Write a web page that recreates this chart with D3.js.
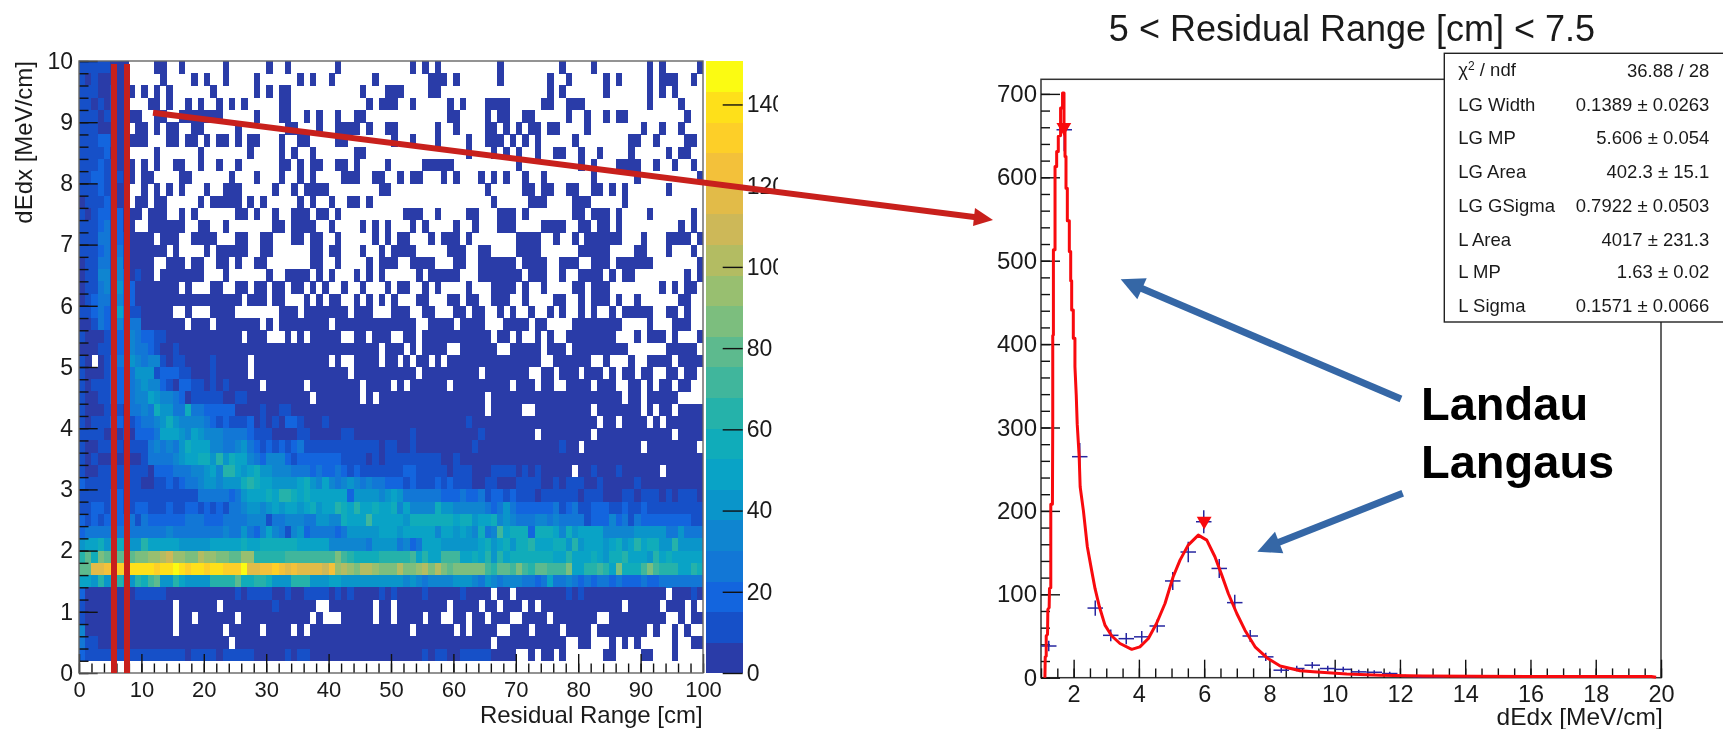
<!DOCTYPE html>
<html><head><meta charset="utf-8">
<script src="https://cdnjs.cloudflare.com/ajax/libs/d3/7.8.5/d3.min.js"></script>
<style>
html,body{margin:0;padding:0;background:#fff;overflow:hidden}
svg{display:block;filter:blur(0.35px)}
text{font-family:"Liberation Sans",Arial,sans-serif;fill:#1a1a1a}
</style></head><body>
<svg id="c" width="1723" height="729"></svg>
<script>
// ---------- 2D histogram: dE/dx vs residual range (100 x 50 bins) ----------
const levelChars = "0123456789abcdefghij";
const bandColours = ["#2a3ca8","#1650c8","#1365de","#1277d6","#0f85d0","#0a95ca","#09a3c6","#10acba","#25b2aa","#40b69c",
                     "#5dba8e","#7cbe7e","#98bf70","#b3bc62","#cdb858","#e2bb48","#f3c13a","#fdcf28","#fee01a","#fbfb12"];
const rangeTicks = [0,10,20,30,40,50,60,70,80,90,100];
const dedxTicks = [0,1,2,3,4,5,6,7,8,9,10];
const barTicks = [0,20,40,60,80,100,120,140];

// rows 0-21 (dE/dx 10 → 5.6): first ten columns as levels ('.' = see sparseRows)
const leftBins = ["11111000..","10100000..","11100100..","11010100..","11101100..","11100000..","11122100..","11112000..",
 "11121100..","11221110..","11121100..","01112100..","10122120..","11123120..","11133121..","11123131..","01133141..",
 "0114414201","0113415220","0123314220","1123216311","0013214233"];
// columns holding a few counts in rows 0-21
const sparseRows = [
"12 13 16 23 30 33 41 53 55 57 67 77 82 91 93 99",
"13 18 20 23 28 35 37 40 47 56-58 60 67 75 78 84 86 91 93-95 98",
"8 10 12 14 21 28 30 32 33 45 49-51 56 57 75 77 84 91 93 95",
"11 12 14 17 19 22 24 26 32 33 46 48-50 53 59 61 65-68 74 75 78-80 91 96",
"8 9 12 13 16-22 28 32 33 36 38 41 44 45 59 60 65 67 68 71 72 78 81 84 86 87 97",
"9 10 12 14 15 18 19 25 33 34 38 41-44 46 49 50 57 60 65 66 68 70 72 73 75 76 81 90 93 96",
"8-10 14 15 17 18 20 22 23 25 27 28 32 35 36 41 42 50 53 57 62 65-67 69 71 73 79 88 89 92 97 98",
"12 19 27 32 34 37 44 45 62 66 68 70 73 76 77 80 83 88 94 96 97",
"8 10 12 15 16 19 22 25 32 33 35 37 38 41 42 44 49 55-59 70 80 82 86-89 92 95 98",
"8 10 11 16 17 24 28 32 35 37 42-44 47 48 51 53 54 58 60 64 66 68 71 74 82 89 99",
"10 12 14 16 20 23-25 31 34 36-39 48 49 65 71 72 74 75 78 79 82 83 85 87 94",
"9 10 12 13 19 21-25 27 29 35 37 40 43 44 46 66 72-74 79-81 87",
"8 9 11-13 16 18 25 26 28 31 34-36 38 39 41 52-54 57 62 63 67-69 71 79 80 82-84 86 91 98",
"8 11-16 19 20 23 31 32 34-37 40 45 47 49 53 55 60 63 67-69 74-77 80 81 83 84 86 96 98",
"8-11 13-15 18-21 25 26 29 30 34 35 37 38 41 47 49 51 52 56 58-60 62 70-73 76 79 81-86 90 94-97 99",
"8-13 15 20 22-26 29 30 37 38 40 41 45 48 50-53 59-61 64 65 70-73 80-84 89 90 94 98",
"8-11 14-16 18 19 22 23 25 28 29 37 38 41 46 48-50 53-56 60 61 64-69 71-74 77-79 82-84 86-91 99",
"8-11 13-19 23 30 33-36 38 40 44 46 48 54 56-60 64-70 72-74 77 80-83 85 87 88 97 99",
"8-15 17 21 22 25 26 28 29 31 32 34 35 37 39 42 45 49 51 52 55 57 62 66-69 71 74 79 80 82-84 93 95 97 98",
"8-25 27-29 31 32 36 38 40 41 44 46 48 50 54 55 59 60 62 63 66-68 71 76 77 80 82-84 86 89 96 97",
"8-14 17 21-24 32-34 36-42 44-46 50-52 55 56 60 61 63 64 67 69 72 75 77 80 82 85 87-91 94 95 97",
"8-16 18-20 22-28 30 32-39 41-53 56-59 61-64 68-71 73 74 79-86 91 95-97"];

// rows 22-48 (dE/dx 5.6 → 0.2): level of each bin, read in groups of ten; missing tail = level 0
const heatRows = [
"1000112243 2211000000",
"0001112243 3210010000",
"1000123354 3441011000 0100000000",
"1000122235 5512221100 0100000000",
"1011122234 5442102211 0101000000",
"1001122234 4654432011 1110011000",
"1000111033 4375533733 2222200001 0011000000",
"1011122112 3345754444 3212111201 0102210001 0000000000 0000000000 0010000000",
"1111000102 2236665465 4443333211 1000011000 0011000000 0001000000 0000100000",
"1001111011 1343435766 6443345321 2121231111 1111111101 1001000000 0001000000 0000000100",
"1010000000 1333345667 7585766432 4442122222 2211110101 1111111100 1000000000",
"1001111111 1022233344 5648865675 5444333232 2321211111 1122111110 1110001111 0101000000 0010001000",
"2111111111 0011212334 5545557876 6555567546 4345434332 2212111212 1110011000 1111001011 1001000001",
"1111122111 1111111113 3333235666 7688767666 6662555545 6533333322 2322312212 1110111111 0111000110 1110101110",
"1122122112 2111211221 2121334554 5656656756 6876866766 7464444755 4444432353 2222223123 1122211211 2111111111",
"2121222231 3222222333 2223333444 1334443355 4476669666 6657777777 6775667454 3334434333 3122242313 2222222211",
"2333333333 3333433333 3334335324 6431452333 3235555566 6566666466 5654734967 7727776475 6666444445 5555335333",
"5667567655 8666665555 5666667667 7777766666 4444443555 5342366655 5555675675 7786667758 5666567568 6775585555",
"8a7baaaaab bccdeccbbd ccbbaacc88 8889999999 9b98777788 8889686699 9667685867 7777776686 6676577866 6586766666",
"aaffghhhii iihiijihii hiihhhjffg ghgfgffffe gcdcbddcbb bdbbcdbdba bbbbb98aa9 b98aa999b6 688986b777 9b98886687",
"6658568658 79a5586555 5888 8a7788 7555888555 6655555555 5545434444 5554354344 4332363343 2323323222 3223333333",
"2000000001 1111000000 0000010111 1001001111 0101000010 1000010000 0100000000 0000000010 1000000000 0000000010",
"1000000000 0000000000 0000000000 0100000000",
"1000000000",
"4000000000",
"3110000000",
"2111111111 1111111011 1101111100 0001011000 0000000000 0000010110 0111110000"];

// empty bins in rows 22-48
const emptyBins = [
"26 30-32 34 36 42 43 46 50 51 54 66 69 71 72 74 76 77 86-88 90 94 96-98",
"48 52 54 59 60 67 68 74 78 88-93 99",
"2 27 40 42 43 48 51 53 56 58 74 75 82 83 85-87 89 90 95",
"27 43 54 64 72 73 76 80 84 86 89 92 93 96 99",
"29 36 45 50 52 59 69 73 76 77 82 86 87 90 92 95 98 99",
"37 45 47 65 87 90 96-99",
"65 71 72 82 90 92 95",
"83 86 91 93",
"73 82 95",
"80 90 99",
"",
"79 93",
"","","","","","","","","",
"66 69 94",
"15 22 38 39 47 50 59 64 67 71 73 87 93 97 99",
"15 18 25 37 39-41 47 50 55 58 59 62 65 69 70 75 83 84 94 95 97",
"15 23 29 34 36 53 60 62 67 68 72 77 82 91 93 94 96 98 99",
"24 66 78 79 82-84 86 88 90-94 96 97",
"70 71 73 76 78-83 86-89 92-94 96-99"];

// ---------- 1D slice: 5 < residual range < 7.5 ----------
const sliceBinCount = 40;
const sliceCounts = [38,657,265,83.5,50.8,46.8,49,62,116,150.7,187,131,90,50,25,9,11,15,11,10,7,6.5,5,2,1,1,0,1,0,0,0,0,0,0,0,0,0,0,0,0];
const fitX = [1.12,1.13,1.16,1.16,1.2,1.21,1.25,1.26,1.30,1.30,1.35,1.36,1.36,1.38,1.38,1.43,1.43,1.48,1.48,1.53,1.53,1.60,1.60,1.66,1.66,1.705,1.705,1.736,1.736,1.766,1.766,1.807,1.807,1.868,1.868,1.91,1.91,1.94,1.94,1.99,1.99,2.04,2.04,2.08,2.11,2.17,2.2,2.30,2.42,2.55,2.655,2.79,2.96,3.17,3.42,3.78,4.03,4.29,4.54,4.80,5.05,5.26,5.51,5.82,6.08,6.33,6.54,6.74,7.0,7.25,7.56,7.92,8.33,8.94,9.35,10.37,11.39,12.7,16,19.7,19.85];
const fitY = [0,25,26,50,52,82,84,107,108,208,208,310,410,411,513,513,613,613,631,631,649,650,683,683,701,701,660,660,625,625,587,587,548,548,511,511,476,476,441,441,407,407,373,339,304,265,229,200,157,129,107,85,63,50,41,34,37,47,65,89,121,141,159,171,165,145,123,101,77,57,37,24,14,8.4,7,4.4,3,2,1.5,1.5,0.5];
const peakX = [1.7,6.0];
const peakY = [660,188];
const sliceXTicks = [2,4,6,8,10,12,14,16,18,20];
const sliceYTicks = [0,100,200,300,400,500,600,700];
const statNames = ["LG Width","LG MP","LG Area","LG GSigma","L Area","L MP","L Sigma"];
const statValues = ["0.1389 ± 0.0263","5.606 ± 0.054","402.3 ± 15.1","0.7922 ± 0.0503","4017 ± 231.3","1.63 ± 0.02","0.1571 ± 0.0066"];
const statBaselines = [111,144.3,178.3,211.7,245.7,278.3,311.7];

// ---------- layout ----------
const H = {l:79,r:703,t:61,b:673}, B = {l:706,r:742.7}, S = {l:1041,r:1661,t:79.3,b:677.7};
const svg = d3.select("#c");
const parseCols = s => s.trim()==="" ? [] : s.trim().split(/\s+/).flatMap(t=>{const p=t.split("-").map(Number);return p.length===1?[p[0]]:d3.range(p[0],p[1]+1);});

// build the bin grid (row 0 is top, row 49 is empty)
const grid = d3.range(50).map(()=>new Array(100).fill(null));
sparseRows.forEach((s,r)=>{parseCols(s).forEach(c=>grid[r][c]=0);
  [...leftBins[r]].forEach((ch,c)=>{if(ch!==".")grid[r][c]=levelChars.indexOf(ch);});});
heatRows.forEach((s,i)=>{const r=i+22,t=s.replace(/\s/g,"").padEnd(100,"0");
  [...t].forEach((ch,c)=>grid[r][c]=levelChars.indexOf(ch));
  parseCols(emptyBins[i]).forEach(c=>grid[r][c]=null);});
const cells=[];
grid.forEach((row,r)=>row.forEach((lv,c)=>{if(lv!==null)cells.push({range:c,dedx:10-0.2*(r+1),value:(lv+0.5)*7.5});}));

const xH=d3.scaleLinear().domain([0,100]).range([H.l,H.r]);
const yH=d3.scaleLinear().domain([0,10]).range([H.b,H.t]);
const colour=d3.scaleQuantize().domain([0,150]).range(bandColours);
const yB=d3.scaleLinear().domain([0,150.7]).range([H.b,H.t]);

svg.append("g").attr("shape-rendering","crispEdges").selectAll("rect").data(cells).join("rect")
 .attr("x",d=>xH(d.range)).attr("y",d=>yH(d.dedx+0.2))
 .attr("width",xH(1)-xH(0)+0.3).attr("height",yH(0)-yH(0.2)+0.3)
 .attr("fill",d=>colour(d.value));

// colour bar
const bandW=150.7/bandColours.length;
svg.append("g").attr("shape-rendering","crispEdges").selectAll("rect").data(bandColours).join("rect")
 .attr("x",B.l).attr("width",B.r-B.l)
 .attr("y",(d,i)=>yB((i+1)*bandW)).attr("height",yB(0)-yB(bandW)+0.3).attr("fill",d=>d);

function styleAxis(g,fs){g.select(".domain").remove();g.selectAll("line").attr("stroke","#111").attr("stroke-width",1.4);
  if(!fs)g.selectAll("text").remove();
  g.selectAll("text").attr("font-size",fs).style("fill","#1a1a1a");g.attr("font-family",null).attr("font-size",null);}

// 2D axes
const gA=svg.append("g");
gA.append("g").attr("transform",`translate(0,${H.b})`).call(d3.axisBottom(xH).tickValues(d3.range(0,101,2)).tickSize(-9.5).tickFormat("")).call(g=>styleAxis(g,0));
gA.append("g").attr("transform",`translate(0,${H.b})`).call(d3.axisBottom(xH).tickValues(rangeTicks).tickSize(-19).tickPadding(8)).call(g=>styleAxis(g,22));
gA.append("g").attr("transform",`translate(${H.l},0)`).call(d3.axisLeft(yH).tickValues(d3.range(0,10.01,0.2)).tickSize(-9.5).tickFormat("")).call(g=>styleAxis(g,0));
gA.append("g").attr("transform",`translate(${H.l},0)`).call(d3.axisLeft(yH).tickValues(dedxTicks).tickSize(-18.7).tickPadding(6)).call(g=>styleAxis(g,23));
svg.append("rect").attr("x",H.l).attr("y",H.t).attr("width",H.r-H.l).attr("height",H.b-H.t).attr("fill","none").attr("stroke","#666").attr("stroke-width",1.4);
svg.append("clipPath").attr("id","barclip").append("rect").attr("x",700).attr("y",40).attr("width",78).attr("height",660);
svg.append("g").attr("clip-path","url(#barclip)").append("g").attr("transform",`translate(${B.r},0)`)
 .call(d3.axisRight(yB).tickValues(barTicks).tickSize(-20).tickPadding(4)).call(g=>styleAxis(g,23));
svg.append("text").attr("text-anchor","end").attr("x",702.7).attr("y",722.7).attr("font-size",24).text("Residual Range [cm]");
svg.append("text").attr("text-anchor","end").attr("transform","translate(31.7,61) rotate(-90)").attr("font-size",24).text("dEdx [MeV/cm]");

// 1D slice
const xS=d3.scaleLinear().domain([1,20]).range([S.l,S.r]);
const yS=d3.scaleLinear().domain([0,717.5]).range([S.b,S.t]);
svg.append("rect").attr("x",S.l).attr("y",S.t).attr("width",S.r-S.l).attr("height",S.b-S.t).attr("fill","none").attr("stroke","#333").attr("stroke-width",1.5);
const gS=svg.append("g");
gS.append("g").attr("transform",`translate(0,${S.b})`).call(d3.axisBottom(xS).tickValues(d3.range(1,20.01,0.5)).tickSize(-9.3).tickFormat("")).call(g=>styleAxis(g,0));
gS.append("g").attr("transform",`translate(0,${S.b})`).call(d3.axisBottom(xS).tickValues(sliceXTicks).tickSize(-18).tickPadding(8)).call(g=>styleAxis(g,23.5));
gS.append("g").attr("transform",`translate(${S.l},0)`).call(d3.axisLeft(yS).tickValues(d3.range(0,701,20)).tickSize(-9).tickFormat("")).call(g=>styleAxis(g,0));
gS.append("g").attr("transform",`translate(${S.l},0)`).call(d3.axisLeft(yS).tickValues(sliceYTicks).tickSize(-19).tickPadding(4)).call(g=>styleAxis(g,24));
svg.append("text").attr("text-anchor","end").attr("x",1662.7).attr("y",725).attr("font-size",24.5).text("dEdx [MeV/cm]");

// data crosses
const binW=19/sliceBinCount;
const pts=sliceCounts.map((v,i)=>({x:1+binW*(i+0.5),v})).filter(d=>d.v>0);
const gP=svg.append("g").attr("stroke","#2626a0").attr("stroke-width",1.5);
gP.selectAll("line.h").data(pts).join("line").attr("class","h").attr("x1",d=>xS(d.x-binW/2)).attr("x2",d=>xS(d.x+binW/2)).attr("y1",d=>yS(d.v)).attr("y2",d=>yS(d.v));
gP.selectAll("line.v").data(pts).join("line").attr("class","v").attr("x1",d=>xS(d.x)).attr("x2",d=>xS(d.x)).attr("y1",d=>yS(d.v+Math.sqrt(d.v))).attr("y2",d=>yS(Math.max(0,d.v-Math.sqrt(d.v))));

// fit curve
svg.append("path").datum(fitX.map((x,i)=>[x,fitY[i]])).attr("fill","none").attr("stroke","#f80a0e").attr("stroke-width",3).attr("stroke-linejoin","round")
 .attr("d",d3.line().x(d=>xS(d[0])).y(d=>yS(d[1])));

// peak markers
const tri=d3.symbol().type(d3.symbolTriangle).size(95);
svg.append("g").selectAll("path").data(peakX.map((x,i)=>[x,peakY[i]])).join("path").attr("d",tri).attr("fill","#f80a0e")
 .attr("transform",d=>`translate(${xS(d[0])},${yS(d[1])}) rotate(180)`);

// title
svg.append("text").attr("x",1352).attr("y",40.7).attr("text-anchor","middle").attr("font-size",36).text("5 < Residual Range [cm] < 7.5");

// stats box
svg.append("rect").attr("x",1444.3).attr("y",53.3).attr("width",290).attr("height",268.7).attr("fill","#fff").attr("stroke","#222").attr("stroke-width",1.4);
const chi=svg.append("text").attr("x",1458.3).attr("y",76).attr("font-size",18.5);
chi.append("tspan").text("χ");chi.append("tspan").attr("dy",-6).attr("font-size",12).text("2");chi.append("tspan").attr("dy",6).text(" / ndf");
svg.append("text").attr("x",1709.3).attr("y",77).attr("text-anchor","end").attr("font-size",18.5).text("36.88 / 28");
statNames.forEach((n,i)=>{
  svg.append("text").attr("x",1458.3).attr("y",statBaselines[i]).attr("font-size",18.5).text(n);
  svg.append("text").attr("x",1709.3).attr("y",statBaselines[i]).attr("text-anchor","end").attr("font-size",18.5).text(statValues[i]);
});

// annotations
const redC="#c8201c", blueC="#3567a6";
[114,127].forEach(x=>svg.append("line").attr("x1",x).attr("x2",x).attr("y1",64).attr("y2",673).attr("stroke",redC).attr("stroke-width",6));
svg.append("line").attr("x1",153).attr("y1",112.7).attr("x2",978).attr("y2",217.5).attr("stroke",redC).attr("stroke-width",6);
svg.append("polygon").attr("points","993,220 975,208 973,226").attr("fill",redC);
svg.append("line").attr("x1",1401).attr("y1",399).attr("x2",1136).attr("y2",286).attr("stroke",blueC).attr("stroke-width",7);
svg.append("polygon").attr("points","1120.7,279.3 1146.7,278.3 1137.3,299.3").attr("fill",blueC);
svg.append("line").attr("x1",1402.7).attr("y1",493.3).attr("x2",1272).attr("y2",545).attr("stroke",blueC).attr("stroke-width",7);
svg.append("polygon").attr("points","1257.3,551.7 1275,531.7 1283.3,553.3").attr("fill",blueC);
svg.append("text").attr("x",1421).attr("y",420).attr("font-size",47).attr("font-weight","bold").style("fill","#000").text("Landau");
svg.append("text").attr("x",1421).attr("y",477.7).attr("font-size",47).attr("font-weight","bold").style("fill","#000").text("Langaus");
</script>
</body></html>
